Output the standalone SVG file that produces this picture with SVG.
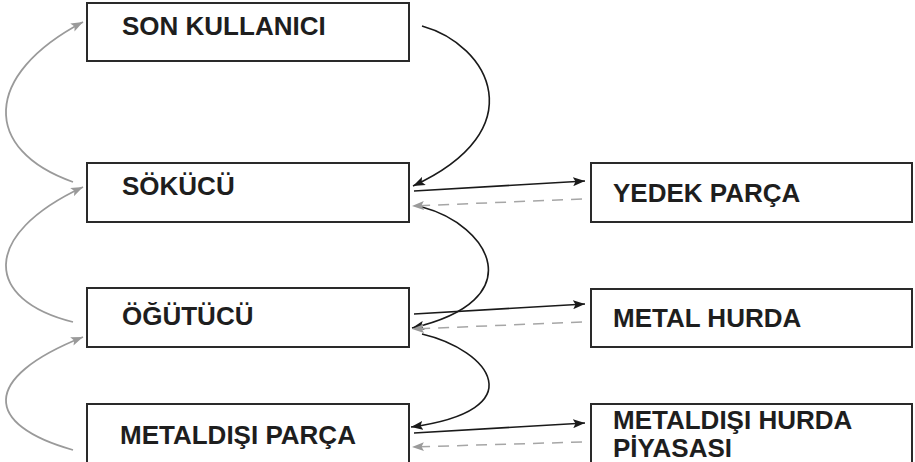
<svg xmlns="http://www.w3.org/2000/svg" width="915" height="462" viewBox="0 0 915 462">
  <style>
    .box { fill: #ffffff; stroke: #2a2a2a; stroke-width: 2; }
    .lbl { font-family: "Liberation Sans", Arial, Helvetica, sans-serif; font-weight: bold; font-size: 26px; fill: #1e1e1e; }
    .blk { fill: none; stroke: #1a1a1a; stroke-width: 1.6; }
    .gry { fill: none; stroke: #9a9a9a; stroke-width: 1.8; }
    .dsh { fill: none; stroke: #a6a6a6; stroke-width: 1.5; stroke-dasharray: 11 8; }
  </style>
  <defs>
    <marker id="ab" markerUnits="userSpaceOnUse" markerWidth="13" markerHeight="9" refX="12" refY="4.5" orient="auto">
      <path d="M0,0 L12,4.5 L0,9 L2.5,4.5 z" fill="#1a1a1a"/>
    </marker>
    <marker id="ag" markerUnits="userSpaceOnUse" markerWidth="13" markerHeight="9" refX="12" refY="4.5" orient="auto">
      <path d="M0,0 L12,4.5 L0,9 L2.5,4.5 z" fill="#9a9a9a"/>
    </marker>
  </defs>

  <rect width="915" height="462" fill="#ffffff"/>

  <g id="connectors">
    <!-- gray return arcs on the left -->
    <path class="gry" d="M73,182 C-18,150 -18,75 83,22" marker-end="url(#ag)"/>
    <path class="gry" d="M73,322 C-16,300 -20,235 83,187" marker-end="url(#ag)"/>
    <path class="gry" d="M73,450 C-16,425 -20,378 83,337" marker-end="url(#ag)"/>
    <!-- black flow arcs on the right -->
    <path class="blk" d="M422,26 C490,45 535,130 413,186" marker-end="url(#ab)"/>
    <path class="blk" d="M422,207 C490,225 533,300 412,328" marker-end="url(#ab)"/>
    <path class="blk" d="M422,334 C490,350 535,410 411,427" marker-end="url(#ab)"/>
    <!-- straight outputs -->
    <path class="blk" d="M414,191 L585,181" marker-end="url(#ab)"/>
    <path class="blk" d="M414,314 L585,304" marker-end="url(#ab)"/>
    <path class="blk" d="M414,433 L585,423" marker-end="url(#ab)"/>
    <!-- dashed returns -->
    <path class="dsh" d="M582,199 L412,206" marker-end="url(#ag)"/>
    <path class="dsh" d="M582,322 L412,329" marker-end="url(#ag)"/>
    <path class="dsh" d="M582,442 L412,447" marker-end="url(#ag)"/>
  </g>

  <g id="son-kullanici">
    <rect class="box" x="87" y="3" width="322" height="58"/>
    <text class="lbl" x="122" y="35">SON KULLANICI</text>
  </g>
  <g id="sokucu">
    <rect class="box" x="87" y="163" width="322" height="59"/>
    <text class="lbl" x="122" y="195">SÖKÜCÜ</text>
  </g>
  <g id="ogutucu">
    <rect class="box" x="87" y="288" width="322" height="59"/>
    <text class="lbl" x="122" y="325">ÖĞÜTÜCÜ</text>
  </g>
  <g id="metaldisi-parca">
    <rect class="box" x="87" y="404" width="322" height="80"/>
    <text class="lbl" x="120" y="444">METALDIŞI PARÇA</text>
  </g>
  <g id="yedek-parca">
    <rect class="box" x="591" y="163" width="321" height="59"/>
    <text class="lbl" x="613" y="202">YEDEK PARÇA</text>
  </g>
  <g id="metal-hurda">
    <rect class="box" x="591" y="289" width="321" height="58"/>
    <text class="lbl" x="613" y="327">METAL HURDA</text>
  </g>
  <g id="metaldisi-hurda">
    <rect class="box" x="591" y="404" width="321" height="80"/>
    <text class="lbl" x="613" y="429">METALDIŞI HURDA</text>
    <text class="lbl" x="613" y="457">PİYASASI</text>
  </g>
</svg>
